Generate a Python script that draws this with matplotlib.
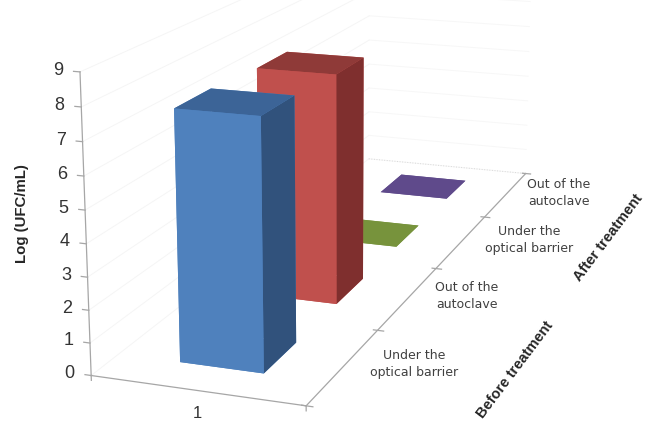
import matplotlib
matplotlib.use("Agg")
import matplotlib.pyplot as plt
from mpl_toolkits.mplot3d import proj3d

# values
log_ufc = [7.7, 7.55, 0.0, 0.0]
series_labels = ["Under the\noptical barrier", "Out of the\nautoclave",
                 "Under the\noptical barrier", "Out of the\nautoclave"]
series_label_px = [(414, 364), (467, 296), (529, 240), (559, 193)]
z_ticks = list(range(10))
category = ["1"]
group_labels = ["Before treatment", "After treatment"]
group_label_px = [(515, 370), (608, 238)]

# bottom, top, front, back, left, right faces
faces = [
    ["#4F81BD", "#3C6497", "#4F81BD", "#4F81BD", "#4F81BD", "#31527C"],
    ["#C0504D", "#8F3A38", "#C0504D", "#C0504D", "#C0504D", "#7F2F2E"],
    ["#77933C", "#77933C", "#77933C", "#77933C", "#77933C", "#77933C"],
    ["#5F4A8B", "#5F4A8B", "#5F4A8B", "#5F4A8B", "#5F4A8B", "#5F4A8B"],
]

W, H = 648, 424
AX_PX = 784
LEFT, BOTTOM = -59.0, -110.6
GRID = "#F5F5F5"
BACK_GRID = "#F7F7F7"
AXIS = "#A6A6A6"

plt.rcParams["font.family"] = ["Liberation Sans", "DejaVu Sans"]

fig = plt.figure(figsize=(W / 100, H / 100), dpi=100, facecolor="white")
ax = fig.add_axes([LEFT / W, BOTTOM / H, AX_PX / W, AX_PX / H], projection="3d")
ax.set_axis_off()
ax.computed_zorder = False
ax.set_xlim(0, 1)
ax.set_ylim(0, 4)
ax.set_zlim(0, 9)
ax.set_box_aspect((0.3355, 1.262, 0.4545))
ax.view_init(elev=14.6, azim=-70.5)
ax.set_proj_type("persp", focal_length=0.436)

# walls
for z in z_ticks:
    ax.plot([0, 0], [0, 4], [z, z], color=GRID, lw=0.7, zorder=1)
    ax.plot([0, 1], [4, 4], [z, z], color=BACK_GRID, lw=0.7, zorder=1)
ax.plot([0, 1], [4, 4], [0, 0], color="#D8D8D8", lw=0.7, ls=":", zorder=1)

# axes lines and ticks
ax.plot([0, 0], [0, 0], [0, 9], color=AXIS, lw=0.9, zorder=2)
ax.plot([0, 1], [0, 0], [0, 0], color=AXIS, lw=0.9, zorder=2)
ax.plot([1, 1], [0, 4], [0, 0], color=AXIS, lw=0.9, zorder=2)
proj = ax.get_proj()
for z in z_ticks:
    ax.plot([-0.03, 0], [0, 0], [z, z], color=AXIS, lw=0.9, zorder=2)
    x2, y2, _ = proj3d.proj_transform(-0.08, 0, z, proj)
    ax.text2D(x2, y2, str(z), transform=ax.transData, ha="right", va="center",
              fontsize=13, color="#333333", zorder=5)
for x in [0, 1]:
    ax.plot([x, x], [0, 0], [-0.15, 0], color=AXIS, lw=0.9, zorder=2)
for y in range(5):
    ax.plot([0.98, 1.03], [y, y], [0, 0], color=AXIS, lw=0.9, zorder=2)

# bars, back to front
for i in [3, 2, 1, 0]:
    ax.bar3d(0.3, i + 0.29, 0, 0.4, 0.42, log_ufc[i], color=faces[i],
             shade=False, edgecolor="none", linewidth=0, zorder=10 + (3 - i))

for label, (px, py) in zip(series_labels, series_label_px):
    fig.text(px / W, 1 - py / H, label, ha="center", va="center", fontsize=9,
             family="DejaVu Sans", color="#404040", linespacing=1.35)
for label, (px, py) in zip(group_labels, group_label_px):
    fig.text(px / W, 1 - py / H, label, ha="center", va="center", fontsize=10.5,
             fontweight="bold", rotation=53, rotation_mode="anchor", color="#262626")
fig.text(197 / W, 1 - 413 / H, category[0], ha="center", va="center", fontsize=12, color="#333333")
fig.text(22 / W, 1 - 214 / H, "Log (UFC/mL)", ha="center", va="center", fontsize=10.8,
         fontweight="bold", rotation=90, color="#262626")

fig.savefig("out.png", dpi=100, facecolor="white")
